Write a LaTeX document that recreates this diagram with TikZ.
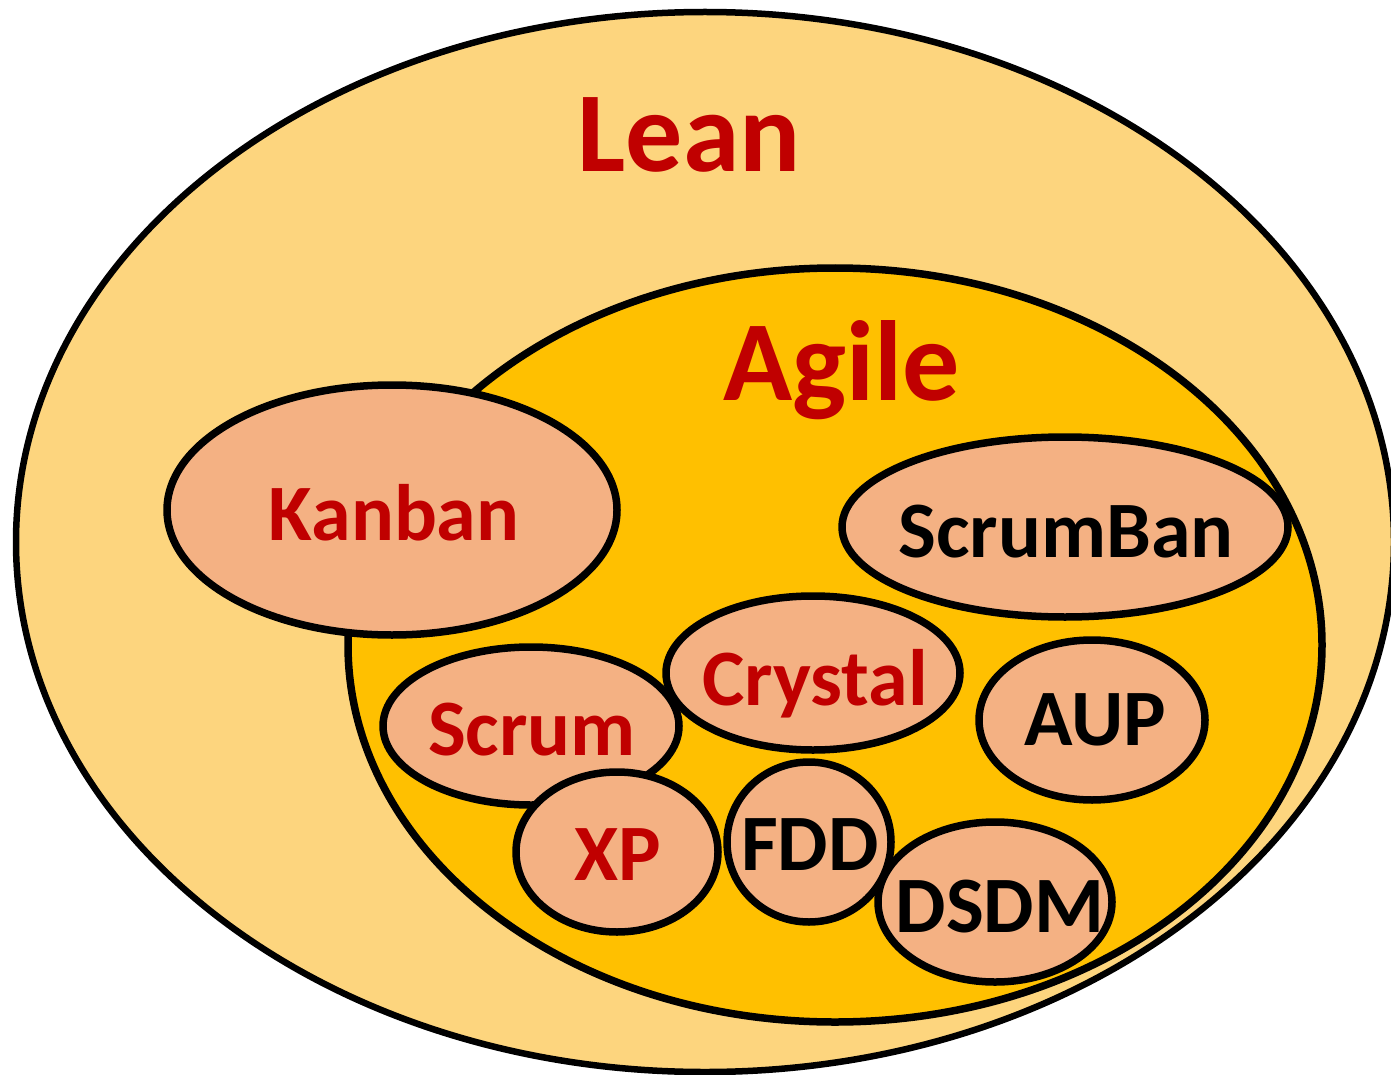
\documentclass[tikz,border=0pt]{standalone}
\usepackage{fontspec}
\setmainfont{Carlito}
\usetikzlibrary{shapes.geometric}
\definecolor{leanfill}{HTML}{FDD57E}
\definecolor{agilefill}{HTML}{FFC000}
\definecolor{methfill}{HTML}{F4B183}
\definecolor{darkred}{HTML}{C00000}
\tikzset{
  blob/.style={draw=black, line width=7.5pt, ellipse, inner sep=0pt},
  meth/.style={blob, fill=methfill},
  bigtxt/.style={anchor=base, inner sep=0pt, font=\fontsize{114}{130}\selectfont\bfseries, text=darkred},
  redtxt/.style={anchor=base, inner sep=0pt, font=\fontsize{80}{96}\selectfont\bfseries, text=darkred},
  blktxt/.style={anchor=base, inner sep=0pt, font=\fontsize{80}{96}\selectfont\bfseries, text=black}
}
\begin{document}
\begin{tikzpicture}[x=1pt,y=-1pt]
\useasboundingbox (0,0) rectangle (1391,1075);
\begin{scope}
\clip (0,0) rectangle (1391,1075);
\node[blob, line width=6.5pt, fill=leanfill, minimum width=1378pt, minimum height=1060pt] (lean) at (705,542) {};
\node[blob, fill=agilefill, minimum width=974pt, minimum height=754pt] (agile) at (835,645) {};
\node[meth, minimum width=450pt, minimum height=250pt] (kanban) at (392,510) {};
\node[meth, minimum width=446pt, minimum height=180pt] (scrumban) at (1065,527) {};
\node[meth, minimum width=296pt, minimum height=158pt] (scrum) at (531,726) {};
\node[meth, minimum width=294pt, minimum height=154pt] (crystal) at (813,673) {};
\node[meth, minimum width=226pt, minimum height=160pt] (aup) at (1092,720) {};
\node[meth, minimum width=202pt, minimum height=160pt] (xp) at (617,852) {};
\node[meth, minimum width=164pt, minimum height=160pt] (fdd) at (809,842) {};
\node[meth, minimum width=234pt, minimum height=160pt] (dsdm) at (995,902) {};
\end{scope}
\node[bigtxt] (leanlbl) at (689,172) {Lean};
\node[bigtxt] (agilelbl) at (842,400) {Agile};
\node[redtxt] (kanbanlbl) at (394,540) {Kanban};
\node[blktxt] (scrumbanlbl) at (1066,557) {ScrumBan};
\node[redtxt] (crystallbl) at (815,705) {Crystal};
\node[redtxt] (scrumlbl) at (532,755) {Scrum};
\node[blktxt] (auplbl) at (1095,745) {AUP};
\node[redtxt] (xplbl) at (618,880) {XP};
\node[blktxt] (fddlbl) at (810,870) {FDD};
\node[blktxt] (dsdmlbl) at (1000,932) {DSDM};
\end{tikzpicture}
\end{document}
